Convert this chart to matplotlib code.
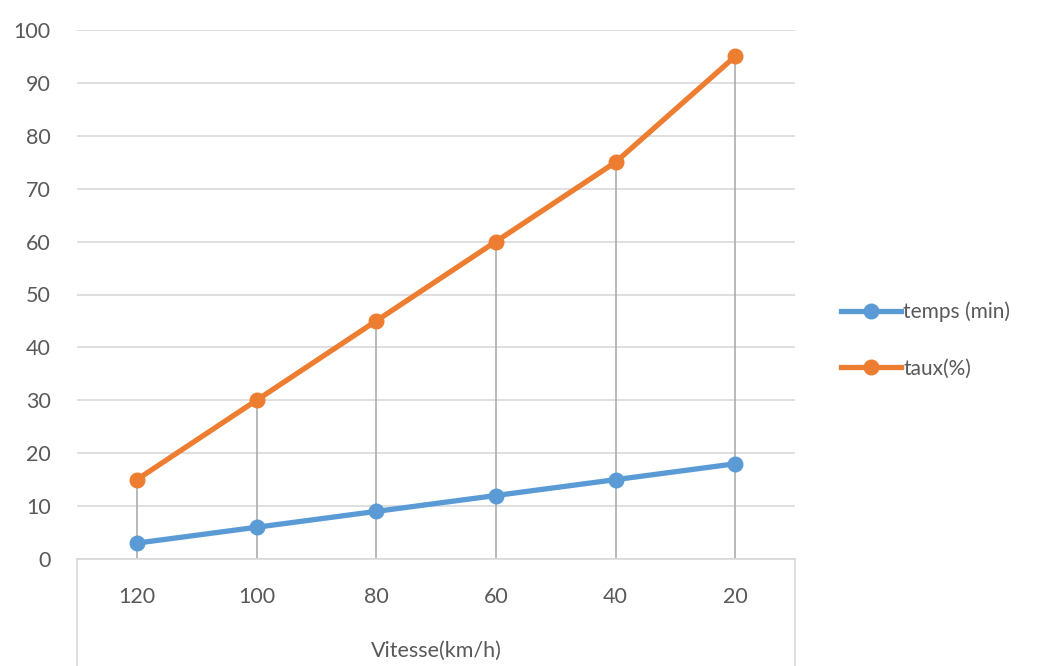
import matplotlib
matplotlib.use("Agg")
import matplotlib.pyplot as plt
from matplotlib.lines import Line2D

plt.rcParams["font.family"] = ["Lato", "DejaVu Sans"]

vitesse = ["120", "100", "80", "60", "40", "20"]
temps = [3, 6, 9, 12, 15, 18]
taux = [15, 30, 45, 60, 75, 95]

BLUE = "#5b9bd5"
ORANGE = "#ed7d31"
TXT = "#595959"
GRID = "#d9d9d9"

W, H = 1038, 666
fig = plt.figure(figsize=(W / 100, H / 100), dpi=100)
left, right, bottom, top = 77 / W, 795 / W, (H - 559) / H, (H - 30) / H
ax = fig.add_axes([left, bottom, right - left, top - bottom])

x = list(range(len(vitesse)))

# drop lines from the axis up to the highest point of each category
for xi, a, b in zip(x, temps, taux):
    ax.plot([xi, xi], [0, max(a, b)], color="#a6a6a6", lw=1.1, zorder=1)

ax.plot(x, temps, color=BLUE, lw=3.8, marker="o", ms=10.5, label="temps (min)", zorder=3)
ax.plot(x, taux, color=ORANGE, lw=3.8, marker="o", ms=10.5, label="taux(%)", zorder=3)

ax.set_xlim(-0.5, len(vitesse) - 0.5)
ax.set_ylim(0, 100)
ax.set_yticks(range(0, 101, 10))
ax.yaxis.grid(True, color=GRID, lw=1.2)
ax.set_axisbelow(True)
ax.tick_params(axis="y", length=0, pad=19, labelsize=15.5, labelcolor=TXT)
ax.set_xticks(x)
ax.set_xticklabels([])
ax.tick_params(axis="x", length=0)
for s in ["left", "right", "top"]:
    ax.spines[s].set_visible(False)
ax.spines["bottom"].set_color(GRID)
ax.spines["bottom"].set_linewidth(1.2)

# category axis box below the plot
box = fig.add_axes([left, 0, right - left, bottom])
box.set_xlim(-0.5, len(vitesse) - 0.5)
box.set_ylim(0, 1)
box.set_xticks([])
box.set_yticks([])
for s in ["left", "right", "top"]:
    box.spines[s].set_color(GRID)
    box.spines[s].set_linewidth(1.2)
box.spines["bottom"].set_visible(False)
for xi, lab in zip(x, vitesse):
    box.text(xi, 1 - 38 / 107, lab, ha="center", va="center", fontsize=15.5, color=TXT)
box.text(0.5, 1 - 92 / 107, "Vitesse(km/h)", transform=box.transAxes,
         ha="center", va="center", fontsize=15.5, color=TXT)

handles = [Line2D([], [], color=BLUE, lw=3.8, marker="o", ms=10.5),
           Line2D([], [], color=ORANGE, lw=3.8, marker="o", ms=10.5)]
fig.legend(handles, ["temps (min)", "taux(%)"], loc="center left",
           bbox_to_anchor=(822 / W, 1 - 340 / H), frameon=False,
           fontsize=15, labelcolor=TXT, handlelength=2.9, handletextpad=0.1,
           labelspacing=1.75)

fig.savefig("out.png", dpi=100, facecolor="white")
